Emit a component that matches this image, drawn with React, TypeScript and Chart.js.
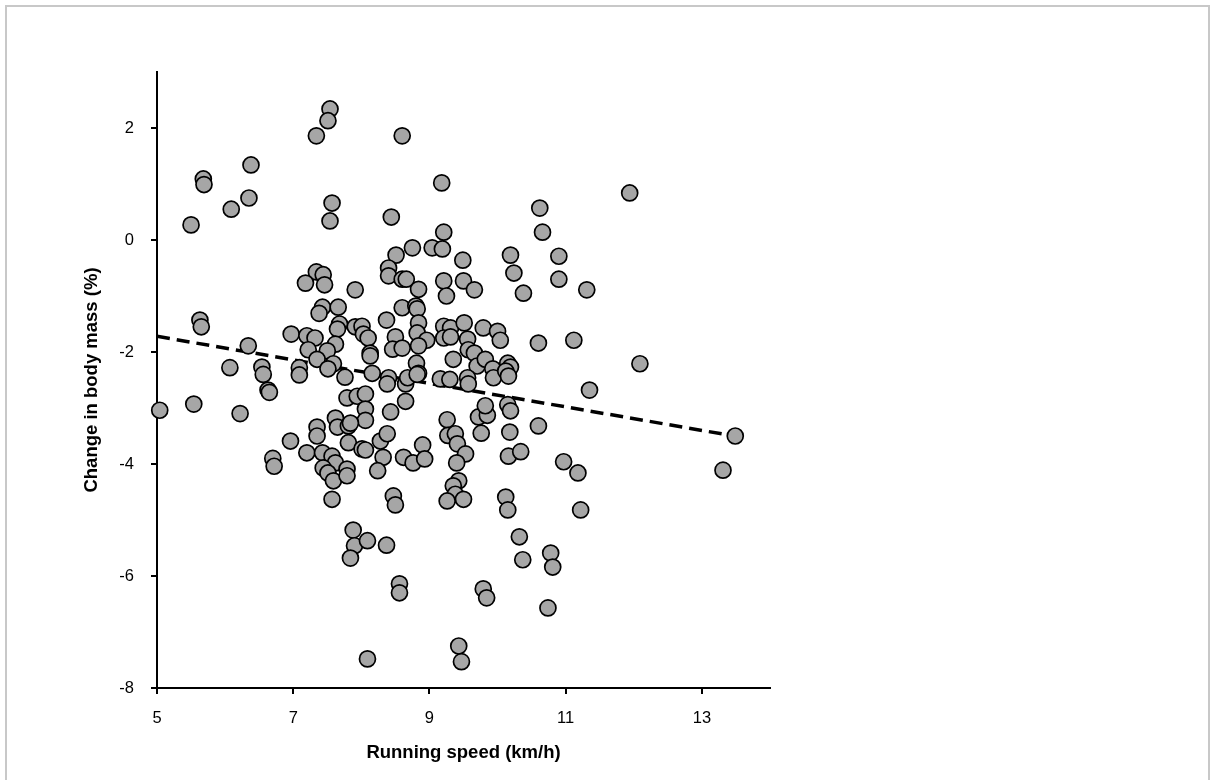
import React, { useEffect, useRef } from 'react';
import { Chart, registerables } from 'chart.js';

Chart.register(...registerables);

// Running speed (km/h) of each runner
const speed = [
  5.04, 5.54, 5.5, 5.68, 5.69, 6.09, 6.38, 6.35, 5.63, 5.65,
  6.34, 6.07, 6.54, 6.56, 6.63, 6.65, 6.22, 6.7, 6.72, 6.97,
  6.96, 7.54, 7.51, 7.34, 7.57, 7.54, 7.34, 7.44, 7.18, 7.46,
  7.43, 7.38, 7.66, 7.68, 7.65, 7.91, 7.91, 8.01, 8.03, 8.1,
  7.2, 7.32, 7.62, 7.5, 7.22, 7.35, 7.59, 7.51, 7.09, 7.09,
  7.76, 7.79, 7.94, 8.06, 8.06, 8.06, 7.62, 7.65, 7.81, 7.84,
  7.35, 7.35, 7.2, 7.43, 7.57, 7.62, 7.44, 7.51, 7.59, 7.57,
  7.79, 7.79, 7.81, 7.88, 7.9, 7.84, 8.09, 8.37, 8.09, 8.01,
  8.06, 8.13, 8.13, 8.16,
  8.6, 8.44, 8.51, 8.75, 8.4, 8.4, 8.6, 8.66, 8.84, 8.6,
  8.8, 8.82, 8.37, 8.84, 8.82, 8.5, 8.46, 8.6, 8.96, 8.84,
  8.81, 8.84, 8.4, 8.38, 8.65, 8.68, 8.82, 8.65, 8.43, 8.28,
  8.38, 8.32, 8.24, 8.62, 8.76, 8.9, 8.93, 8.47, 8.5, 8.56,
  8.56,
  9.18, 9.21, 9.04, 9.19, 9.49, 9.21, 9.5, 9.66, 9.25, 9.21,
  9.31, 9.21, 9.31, 9.51, 9.79, 10.0, 10.04, 9.56, 9.57, 9.66,
  9.35, 9.7, 9.82, 9.93, 9.94, 9.16, 9.3, 9.56, 9.57, 9.26,
  9.27, 9.38, 9.41, 9.53, 9.4, 9.72, 9.85, 9.76, 9.82, 9.43,
  9.35, 9.38, 9.5, 9.26, 9.79, 9.84, 9.43, 9.47,
  10.62, 10.66, 10.19, 10.9, 10.24, 10.9, 10.38, 11.31, 10.6, 11.12,
  10.15, 10.19, 10.12, 10.16, 12.09, 11.94, 11.35, 10.15, 10.19, 10.18,
  10.6, 10.16, 10.34, 10.97, 11.18, 11.22, 10.12, 10.15, 10.32, 10.37,
  10.78, 10.81, 10.74, 13.49, 13.31
];

// Change in body mass (%) of each runner
const massChange = [
  -3.04, -2.93, 0.27, 1.09, 0.99, 0.55, 1.34, 0.75, -1.43, -1.55,
  -1.89, -2.28, -2.27, -2.4, -2.68, -2.72, -3.1, -3.9, -4.04, -1.68,
  -3.59, 2.34, 2.13, 1.86, 0.66, 0.34, -0.57, -0.62, -0.77, -0.8,
  -1.2, -1.31, -1.2, -1.5, -1.59, -0.89, -1.55, -1.54, -1.68, -1.75,
  -1.71, -1.75, -1.86, -1.98, -1.96, -2.13, -2.21, -2.3, -2.28, -2.41,
  -2.45, -2.82, -2.79, -2.75, -3.02, -3.22, -3.18, -3.34, -3.32, -3.27,
  -3.34, -3.5, -3.8, -3.8, -3.86, -3.98, -4.07, -4.16, -4.3, -4.63,
  -4.09, -4.21, -3.62, -5.18, -5.46, -5.68, -5.37, -5.45, -7.48, -3.73,
  -3.75, -2.02, -2.07, -2.38,
  1.86, 0.41, -0.27, -0.14, -0.5, -0.64, -0.7, -0.7, -0.88, -1.21,
  -1.18, -1.23, -1.43, -1.48, -1.66, -1.73, -1.95, -1.93, -1.79, -1.89,
  -2.2, -2.38, -2.46, -2.57, -2.57, -2.46, -2.4, -2.88, -3.07, -3.59,
  -3.46, -3.88, -4.12, -3.88, -3.98, -3.66, -3.91, -4.57, -4.73, -6.14,
  -6.3,
  1.02, 0.14, -0.14, -0.16, -0.36, -0.73, -0.73, -0.89, -1.0, -1.54,
  -1.57, -1.75, -1.73, -1.48, -1.57, -1.63, -1.79, -1.77, -1.96, -2.02,
  -2.13, -2.25, -2.13, -2.3, -2.46, -2.48, -2.49, -2.46, -2.57, -3.21,
  -3.49, -3.46, -3.64, -3.82, -3.98, -3.16, -3.13, -3.45, -2.96, -4.3,
  -4.39, -4.54, -4.63, -4.66, -6.23, -6.39, -7.25, -7.53,
  0.57, 0.14, -0.27, -0.29, -0.59, -0.7, -0.95, -0.89, -1.84, -1.79,
  -2.2, -2.27, -2.34, -2.43, -2.21, 0.84, -2.68, -2.94, -3.05, -3.43,
  -3.32, -3.86, -3.78, -3.96, -4.16, -4.82, -4.59, -4.82, -5.3, -5.71,
  -5.59, -5.84, -6.57, -3.5, -4.11
];

// Fitted trend line end points
const trendSpeed = [5, 13.38];
const trendMass = [-1.72, -3.48];

const xTickValues = [5, 7, 9, 11, 13];
const yTickValues = [-8, -6, -4, -2, 0, 2];

const FONT = '"Liberation Sans", Arial, Helvetica, sans-serif';

export default function App() {
  const ref = useRef<HTMLCanvasElement>(null);

  useEffect(() => {
    const canvas = ref.current;
    if (!canvas) return;
    const chart = new Chart(canvas, {
      type: 'scatter',
      data: {
        datasets: [
          {
            data: speed.map((x, i) => ({ x, y: massChange[i] })),
            backgroundColor: '#a6a6a6',
            borderColor: '#000000',
            borderWidth: 1.7,
            pointRadius: 8,
            pointHoverRadius: 8,
            clip: false,
          },
          {
            type: 'line',
            data: trendSpeed.map((x, i) => ({ x, y: trendMass[i] })),
            borderColor: '#000000',
            borderWidth: 3.5,
            borderDash: [13, 7],
            pointRadius: 0,
            fill: false,
            showLine: true,
          } as any,
        ],
      },
      options: {
        responsive: false,
        animation: false,
        events: [],
        layout: { padding: { left: 0, right: 443, top: 72, bottom: 0 } },
        plugins: { legend: { display: false }, tooltip: { enabled: false } },
        scales: {
          x: {
            type: 'linear',
            min: 5,
            max: 14,
            afterFit: (s: any) => { s.height = 92; },
            afterBuildTicks: (s: any) => { s.ticks = xTickValues.map((v) => ({ value: v })); },
            grid: { display: true, drawOnChartArea: false, drawTicks: true, tickLength: 6, color: '#000000', lineWidth: 2 },
            border: { display: true, color: '#000000', width: 2 },
            ticks: { color: '#000000', font: { family: FONT, size: 16.5 }, padding: 15, maxRotation: 0, autoSkip: false },
            title: {
              display: true,
              text: 'Running speed (km/h)',
              color: '#000000',
              font: { family: FONT, size: 18.5, weight: 'bold' },
              padding: { top: 0, bottom: 16 },
            },
          },
          y: {
            type: 'linear',
            min: -8,
            max: 3,
            afterFit: (s: any) => { s.width = 157; },
            afterBuildTicks: (s: any) => { s.ticks = yTickValues.map((v) => ({ value: v })); },
            grid: { display: true, drawOnChartArea: false, drawTicks: true, tickLength: 6, color: '#000000', lineWidth: 2 },
            border: { display: true, color: '#000000', width: 2 },
            ticks: { color: '#000000', font: { family: FONT, size: 16.5 }, padding: 17, autoSkip: false },
            title: {
              display: true,
              text: 'Change in body mass (%)',
              color: '#000000',
              font: { family: FONT, size: 18.5, weight: 'bold' },
              padding: { top: 81, bottom: 0 },
            },
          },
        },
      },
    } as any);
    return () => chart.destroy();
  }, []);

  return (
    <div style={{ position: 'absolute', left: 0, top: 0, width: 1213, height: 780, overflow: 'hidden', background: '#ffffff' }}>
      <div
        style={{
          position: 'absolute',
          left: 5,
          top: 5,
          width: 1201,
          height: 820,
          border: '2px solid #c8c8c8',
          boxSizing: 'content-box',
        }}
      />
      <canvas ref={ref} width={1213} height={780} style={{ position: 'absolute', left: 0, top: 0, width: 1213, height: 780 }} />
    </div>
  );
}
